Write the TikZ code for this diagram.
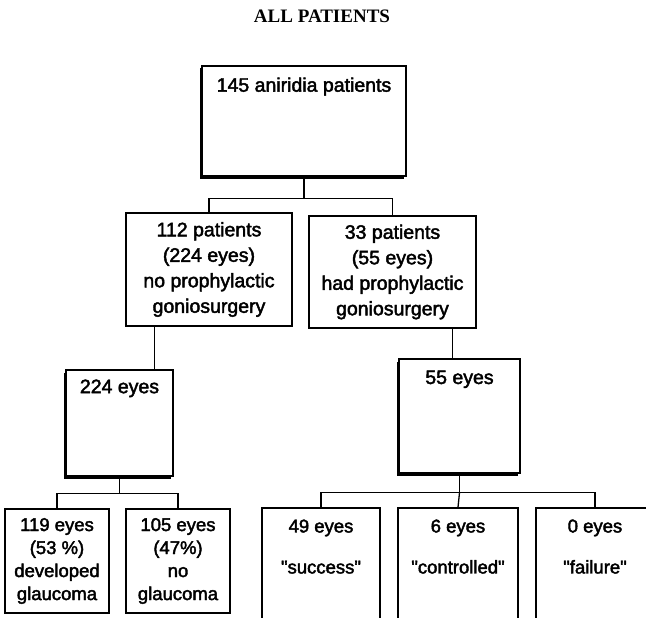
\documentclass[tikz,border=0pt]{standalone}
\usepackage{fontspec}
\setmainfont{Liberation Sans}
\newfontfamily\boxfont{Liberation Sans}[FakeBold=2.2]
\newfontfamily\titlefont{Liberation Serif}
\usepackage{tikz}
\usetikzlibrary{positioning,shadows}

\begin{document}
\begin{tikzpicture}[x=1pt,y=-1pt,
    box/.style={draw=black, line width=1.3pt, fill=white, inner sep=0pt},
    shbox/.style={box, drop shadow={shadow xshift=-2.5pt, shadow yshift=-2.5pt, fill=black, opacity=1}},
    txt/.style={font=\fontsize{19.5}{25.5}\selectfont\boxfont, align=center, inner sep=0pt},
    smalltxt/.style={font=\fontsize{18.5}{23}\selectfont\boxfont, align=center, inner sep=0pt},
    link/.style={line width=1.3pt}]
  \useasboundingbox (0,0) rectangle (646,618);
  \clip (0,0) rectangle (646,618);

  % title
  \node[font={\fontsize{19}{19}\selectfont\titlefont\bfseries}] (title) at (322,16) {ALL PATIENTS};

  % first level
  \node[shbox, minimum width=204pt, minimum height=110pt] (all) at (304,121) {};
  \node[txt, below=12pt of all.north] (alltxt) {145 aniridia patients};

  % second level
  \node[box, minimum width=166pt, minimum height=113pt] (p112) at (209,269.5) {};
  \node[txt] (p112txt) at (p112) {112 patients\\(224 eyes)\\no prophylactic\\goniosurgery};
  \node[box, minimum width=167pt, minimum height=112pt] (p33) at (392.5,272) {};
  \node[txt] (p33txt) at (p33) {33 patients\\(55 eyes)\\had prophylactic\\goniosurgery};

  % eyes
  \node[shbox, minimum width=107pt, minimum height=106pt] (e224) at (119.5,423) {};
  \node[txt, below=10pt of e224.north] (e224txt) {224 eyes};
  \node[shbox, minimum width=121pt, minimum height=114pt] (e55) at (459.5,416) {};
  \node[txt, below=12pt of e55.north] (e55txt) {55 eyes};

  % outcome without goniosurgery
  \node[box, minimum width=104pt, minimum height=104pt] (e119) at (57,561) {};
  \node[smalltxt] (e119txt) at (e119) {119 eyes\\(53 \%)\\developed\\glaucoma};
  \node[box, minimum width=104pt, minimum height=104pt] (e105) at (178,561) {};
  \node[smalltxt] (e105txt) at (e105) {105 eyes\\(47\%)\\no\\glaucoma};

  % outcome with goniosurgery
  \node[box, minimum width=118pt, minimum height=140pt] (e49) at (321,578) {};
  \node[smalltxt, below=12pt of e49.north] (e49txt) {49 eyes\\[18pt]\textquotedbl success\textquotedbl};
  \node[box, minimum width=120pt, minimum height=140pt] (e6) at (458,578) {};
  \node[smalltxt, below=12pt of e6.north] (e6txt) {6 eyes\\[18pt]\textquotedbl controlled\textquotedbl};
  \node[box, minimum width=118pt, minimum height=140pt] (e0) at (595,578) {};
  \node[smalltxt, below=12pt of e0.north] (e0txt) {0 eyes\\[18pt]\textquotedbl failure\textquotedbl};

  % connectors
  \draw[link] (all.south) -- ++(0,22) coordinate (forkA);
  \draw[link] (p112.north) |- (forkA) -| (p33.north);
  \draw[link] ([xshift=35pt]e224.north) -- ([xshift=35pt]e224.north |- p112.south);
  \draw[link] ([xshift=-7pt]e55.north) -- ([xshift=-7pt]e55.north |- p33.south);
  \draw[link] (e224.south) -- ++(0,17) coordinate (forkB);
  \draw[link] (e119.north) |- (forkB) -| (e105.north);
  \draw[link] (e55.south) -- ++(0,19) coordinate (forkC);
  \draw[link] (e49.north) |- (forkC) -| (e0.north);
  \draw[link] (forkC) -- (e6.north);
\end{tikzpicture}
\end{document}
